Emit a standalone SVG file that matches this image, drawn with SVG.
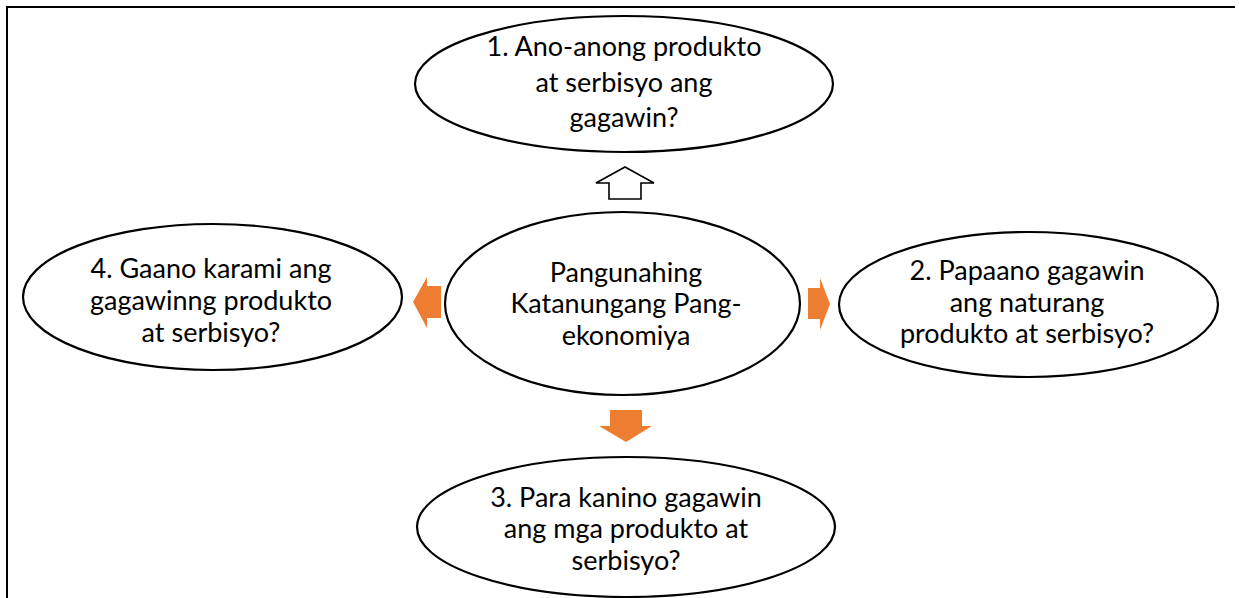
<svg xmlns="http://www.w3.org/2000/svg" width="1239" height="598" viewBox="0 0 1239 598">
<style>
.bg{fill:#ffffff}
.frame{fill:none;stroke:#000;stroke-width:2}
.node ellipse{fill:#fff;stroke:#000;stroke-width:2.2}
.node text{font-family:Lato,"Liberation Sans",sans-serif;font-size:27px;fill:#000;text-anchor:middle}
.arr{fill:#ED7D31;stroke:none}
.arr-o{fill:#fff;stroke:#000;stroke-width:1.6;stroke-linejoin:miter}
</style>
<rect class="bg" x="0" y="0" width="1239" height="598"/>
<polyline class="frame" points="7,598 7,7 1235,7"/>
<g id="connectors">
<polygon class="arr-o" points="625,167 654,183 641,183 641,199 609,199 609,183 596,183"/>
<polygon class="arr" points="808,288 820,288 820,278 830,304 820,330 820,319 808,319"/>
<polygon class="arr" points="610,410 642,410 642,426 652,426 626,442 599,426 610,426"/>
<polygon class="arr" points="441,286 427,286 427,277 413,302 427,328 427,318 441,318"/>
</g>
<g id="node-top" class="node">
<ellipse cx="624" cy="84" rx="209" ry="68"/>
<text x="624" y="56">1. Ano-anong produkto</text>
<text x="624" y="92">at serbisyo ang</text>
<text x="624" y="127">gagawin?</text>
</g>
<g id="node-center" class="node">
<ellipse cx="622.5" cy="303.5" rx="177.5" ry="91.5"/>
<text x="626" y="282">Pangunahing</text>
<text x="626" y="313">Katanungang Pang-</text>
<text x="626" y="345">ekonomiya</text>
</g>
<g id="node-right" class="node">
<ellipse cx="1028.5" cy="304.5" rx="189.5" ry="72.5"/>
<text x="1027" y="280">2. Papaano gagawin</text>
<text x="1027" y="312">ang naturang</text>
<text x="1027" y="343">produkto at serbisyo?</text>
</g>
<g id="node-bottom" class="node">
<ellipse cx="626" cy="527" rx="209" ry="70"/>
<text x="626" y="507">3. Para kanino gagawin</text>
<text x="626" y="538">ang mga produkto at</text>
<text x="626" y="570">serbisyo?</text>
</g>
<g id="node-left" class="node">
<ellipse cx="212.5" cy="297" rx="189.5" ry="73"/>
<text x="211" y="278">4. Gaano karami ang</text>
<text x="211" y="310">gagawinng produkto</text>
<text x="211" y="342">at serbisyo?</text>
</g>
</svg>
